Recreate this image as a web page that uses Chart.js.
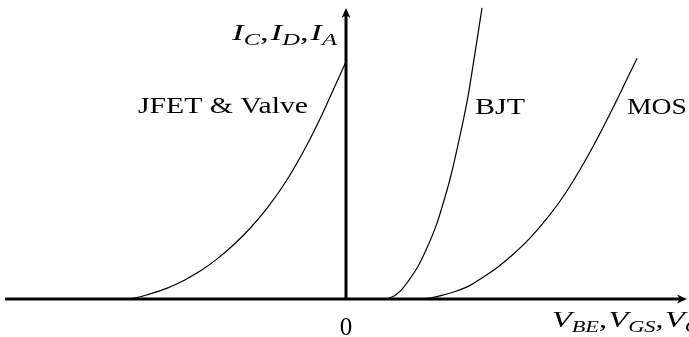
<!DOCTYPE html>
<html lang="en">
<head>
  <meta charset="UTF-8">
  <script src="https://cdn.jsdelivr.net/npm/chart.js"></script>
  <title>transfer characteristics</title>
  <style>
    body { margin: 0; background: #fff; }
    #chart { display: block; }
  </style>
</head>
<body>
  <canvas id="chart" width="689" height="337"></canvas>
  <script>
    // curves (control voltage vs. output current, arbitrary units)
    const jfetV = [-6.79, -6.35, -5.76, -5.26, -4.74, -4.29, -3.79, -3.32, -2.82, -2.32, -1.74, -1.15, -0.76, -0.38, 0];
    const jfetI = [0, 0.01, 0.15, 0.32, 0.56, 0.82, 1.18, 1.58, 2.08, 2.67, 3.5, 4.53, 5.31, 6.14, 6.98];

    const bjtV = [1.0, 1.15, 1.35, 1.5, 1.65, 1.79, 2.09, 2.38, 2.68, 2.85, 3.06, 3.35, 3.59, 3.79, 4.0];
    const bjtI = [0, 0, 0.06, 0.15, 0.29, 0.47, 0.91, 1.5, 2.24, 2.79, 3.53, 4.79, 5.97, 7.21, 8.56];

    const mosV = [1.9, 2.12, 2.47, 2.76, 3.21, 3.65, 3.94, 4.44, 4.91, 5.41, 5.91, 6.38, 6.88, 7.38, 7.85, 8.35, 8.56];
    const mosI = [0, 0, 0.03, 0.09, 0.22, 0.4, 0.58, 0.92, 1.31, 1.79, 2.37, 3.0, 3.8, 4.7, 5.62, 6.65, 7.08];

    const curveLabels = ['JFET & Valve', 'BJT', 'MOS'];
    const yAxisLabel = [['I', 'C'], ['I', 'D'], ['I', 'A']];
    const xAxisLabel = [['V', 'BE'], ['V', 'GS'], ['V', 'GK']];

    const SERIF = '"Liberation Serif", "DejaVu Serif", serif';

    function pts(xs, ys) {
      return xs.map(function (x, i) { return { x: x, y: ys[i] }; });
    }

    function curve(label, xs, ys) {
      return {
        label: label,
        data: pts(xs, ys),
        showLine: true,
        borderColor: '#000',
        borderWidth: 1.2,
        pointRadius: 0,
        cubicInterpolationMode: 'monotone',
        clip: false
      };
    }

    function arrow(ctx, x, y, dir) {
      ctx.save();
      ctx.translate(x, y);
      if (dir === 'up') ctx.rotate(-Math.PI / 2);
      ctx.beginPath();
      ctx.moveTo(0, 0);
      ctx.lineTo(-10, -4.5);
      ctx.quadraticCurveTo(-6, 0, -10, 4.5);
      ctx.closePath();
      ctx.fillStyle = '#000';
      ctx.fill();
      ctx.restore();
    }

    // text squeezed/stretched to the width it has in the picture
    function fitText(ctx, text, x, y, w) {
      const m = ctx.measureText(text).width;
      ctx.save();
      ctx.translate(x, y);
      ctx.scale(w / m, 1);
      ctx.fillText(text, 0, 0);
      ctx.restore();
    }

    // math label like I_C, I_D, I_A; the first `n` blocks are fitted to width w
    function mathLabel(ctx, parts, x, y, w, n) {
      const mainF = 'italic 23px ' + SERIF, subF = 'italic 16px ' + SERIF, commaF = '23px ' + SERIF;
      const items = [];
      let cx = 0, fitW = 0;
      parts.forEach(function (p, i) {
        ctx.font = mainF;
        items.push([p[0], mainF, cx, 0]);
        cx += ctx.measureText(p[0]).width;
        ctx.font = subF;
        items.push([p[1], subF, cx, 5]);
        cx += ctx.measureText(p[1]).width;
        if (i < parts.length - 1) {
          ctx.font = commaF;
          items.push([',', commaF, cx, 0]);
          cx += ctx.measureText(',').width + 1;
        }
        if (i === n - 1) fitW = cx;
      });
      ctx.save();
      ctx.translate(x, y);
      ctx.scale(w / fitW, 1);
      items.forEach(function (it) {
        ctx.font = it[1];
        ctx.fillText(it[0], it[2], it[3]);
      });
      ctx.restore();
    }

    const axesPlugin = {
      id: 'axes',
      afterDatasetsDraw: function (chart) {
        const ctx = chart.ctx;
        const xs = chart.scales.x, ys = chart.scales.y;
        const x0 = xs.getPixelForValue(0), y0 = ys.getPixelForValue(0);
        const xl = xs.getPixelForValue(-10.03), xr = xs.getPixelForValue(10.03);
        const yt = ys.getPixelForValue(8.56);
        ctx.save();
        ctx.strokeStyle = '#000';
        ctx.lineWidth = 3;
        ctx.beginPath();
        ctx.moveTo(xl, y0);
        ctx.lineTo(xr - 6, y0);
        ctx.moveTo(x0, y0 + 1.5);
        ctx.lineTo(x0, yt + 6);
        ctx.stroke();
        arrow(ctx, xr, y0, 'right');
        arrow(ctx, x0, yt, 'up');

        ctx.fillStyle = '#000';
        ctx.textBaseline = 'alphabetic';
        ctx.font = '23px ' + SERIF;
        ctx.textAlign = 'left';
        fitText(ctx, curveLabels[0], 138, 113, 170);
        fitText(ctx, curveLabels[1], 475, 114, 50);
        fitText(ctx, curveLabels[2], 627, 114, 60);
        ctx.font = '25px ' + SERIF;
        ctx.textAlign = 'center';
        ctx.fillText('0', x0, 335);
        ctx.textAlign = 'left';
        mathLabel(ctx, yAxisLabel, 232, 40, 105, 3);
        mathLabel(ctx, xAxisLabel, 552, 327, 113, 2);
        ctx.restore();
      }
    };

    new Chart(document.getElementById('chart'), {
      type: 'scatter',
      data: {
        datasets: [
          curve(curveLabels[0], jfetV, jfetI),
          curve(curveLabels[1], bjtV, bjtI),
          curve(curveLabels[2], mosV, mosI)
        ]
      },
      options: {
        responsive: false,
        animation: false,
        devicePixelRatio: 1,
        layout: { padding: { left: 6, right: 3, top: 10, bottom: 4 } },
        scales: {
          x: { type: 'linear', min: -10, max: 10, display: false },
          y: { type: 'linear', min: -1, max: 8.5, display: false }
        },
        plugins: {
          legend: { display: false },
          tooltip: { enabled: false }
        }
      },
      plugins: [axesPlugin]
    });
  </script>
</body>
</html>
